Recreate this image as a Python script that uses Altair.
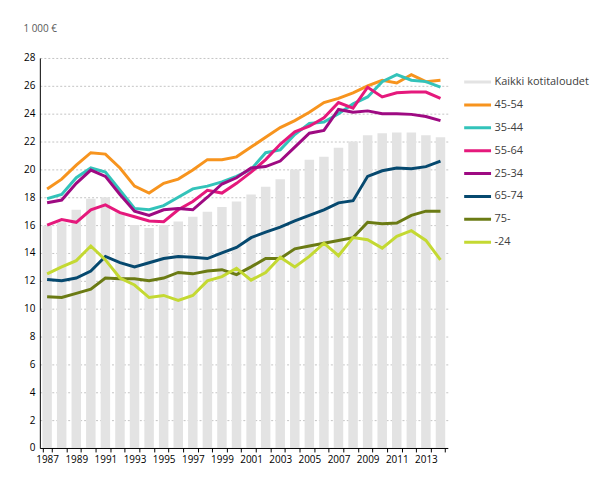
import altair as alt
import pandas as pd

years = list(range(1987, 2015))
series_order = ["Kaikki kotitaloudet", "45-54", "35-44", "55-64", "25-34", "65-74", "75-", "-24"]
colors = ["#E3E3E3", "#F7941E", "#33C3BA", "#E5197C", "#9E0A82", "#06496F", "#6B7B14", "#C4D932"]

kaikki = [15.95, 16.2, 17.1, 17.9, 18.0, 16.9, 16.0, 15.8, 16.0, 16.25, 16.6, 16.95, 17.3, 17.7,
          18.2, 18.75, 19.3, 20.0, 20.7, 20.9, 21.55, 22.0, 22.45, 22.6, 22.65, 22.65, 22.45, 22.3]
a45_54 = [18.6, 19.3, 20.3, 21.2, 21.1, 20.1, 18.8, 18.3, 19.0, 19.3, 19.95, 20.7, 20.7, 20.9,
          21.6, 22.3, 23.0, 23.5, 24.1, 24.8, 25.1, 25.5, 26.0, 26.4, 26.2, 26.8, 26.3, 26.4]
a35_44 = [17.9, 18.2, 19.4, 20.1, 19.8, 18.5, 17.2, 17.1, 17.4, 18.0, 18.6, 18.8, 19.1, 19.5,
          20.0, 21.2, 21.4, 22.5, 23.3, 23.4, 24.0, 24.7, 25.2, 26.3, 26.8, 26.4, 26.3, 25.9]
a55_64 = [16.0, 16.4, 16.2, 17.1, 17.45, 16.9, 16.6, 16.3, 16.25, 17.1, 17.7, 18.5, 18.3, 19.0,
          19.8, 20.7, 21.8, 22.7, 23.1, 23.7, 24.8, 24.4, 25.9, 25.2, 25.5, 25.55, 25.55, 25.1]
a25_34 = [17.6, 17.8, 19.0, 19.95, 19.5, 18.2, 17.0, 16.7, 17.1, 17.2, 17.1, 18.0, 18.95, 19.4,
          20.1, 20.2, 20.6, 21.6, 22.6, 22.8, 24.3, 24.1, 24.2, 24.0, 24.0, 23.95, 23.8, 23.5]
a65_74 = [12.1, 12.0, 12.2, 12.7, 13.75, 13.3, 13.0, 13.3, 13.6, 13.75, 13.7, 13.6, 14.0, 14.4,
          15.1, 15.5, 15.85, 16.3, 16.7, 17.1, 17.6, 17.75, 19.5, 19.9, 20.1, 20.05, 20.2, 20.6]
a75 = [10.85, 10.8, 11.1, 11.4, 12.2, 12.15, 12.15, 12.0, 12.2, 12.6, 12.5, 12.7, 12.8, 12.45,
       13.0, 13.6, 13.6, 14.3, 14.5, 14.7, 14.9, 15.1, 16.2, 16.1, 16.15, 16.7, 17.0, 17.0]
a24 = [12.5, 13.0, 13.45, 14.5, 13.5, 12.2, 11.7, 10.8, 10.95, 10.6, 10.95, 12.0, 12.3, 12.9,
       12.05, 12.6, 13.7, 13.0, 13.75, 14.7, 13.8, 15.1, 14.95, 14.35, 15.2, 15.6, 14.9, 13.5]

line_series = {"45-54": a45_54, "35-44": a35_44, "55-64": a55_64, "25-34": a25_34,
               "65-74": a65_74, "75-": a75, "-24": a24}

bars_df = pd.DataFrame({"year": years, "value": kaikki, "series": "Kaikki kotitaloudet"})
rows = []
for name, vals in line_series.items():
    for y, v in zip(years, vals):
        rows.append({"year": y, "value": v, "series": name})
lines_df = pd.DataFrame(rows)

FONT = "Open Sans"

x_enc = alt.X("year:O",
              scale=alt.Scale(paddingInner=0.35, paddingOuter=0.175),
              axis=alt.Axis(title=None, labelAngle=0, tickBand="extent", ticks=True, tickSize=4,
                            tickColor="#000000", domainColor="#000000", labelPadding=3,
                            labelExpr="datum.value % 2 == 1 ? datum.label : ''",
                            labelFont=FONT, labelFontSize=10, labelColor="#000000", grid=False))
y_enc = alt.Y("value:Q",
              scale=alt.Scale(domain=[0, 28], nice=False),
              axis=alt.Axis(title="1 000 €", titleAngle=0, titleAlign="left", titleBaseline="middle",
                            titleX=-17, titleY=-30, titleFont=FONT, titleFontSize=10,
                            titleFontWeight="normal", titleColor="#595959",
                            values=list(range(0, 29, 2)), ticks=False, labelPadding=5,
                            labelFont=FONT, labelFontSize=10, labelColor="#000000",
                            domainColor="#000000", grid=True, gridColor="#C4C4C4",
                            gridDash=[2, 2], gridWidth=1))

color_enc = alt.Color("series:N",
                      scale=alt.Scale(domain=series_order, range=colors),
                      legend=alt.Legend(title=None, orient="none", legendX=425, legendY=13,
                                        symbolType="stroke", symbolSize=729, symbolStrokeWidth=3,
                                        labelFont=FONT, labelFontSize=11, labelColor="#404040",
                                        labelOffset=2, rowPadding=0, clipHeight=22.4))

bars = alt.Chart(bars_df).mark_bar().encode(x=x_enc, y=y_enc, color=color_enc)
lines = alt.Chart(lines_df).mark_line(strokeWidth=3).encode(
    x=x_enc, y=y_enc, color=color_enc, detail="series:N")

chart = alt.layer(bars, lines).properties(
    width=410, height=392,
    autosize=alt.AutoSizeParams(type="none"),
    padding={"left": 32, "top": 49, "right": 150, "bottom": 35},
).configure_view(stroke=None)

chart.save("out.html", embed_options={"renderer": "svg", "actions": False})
